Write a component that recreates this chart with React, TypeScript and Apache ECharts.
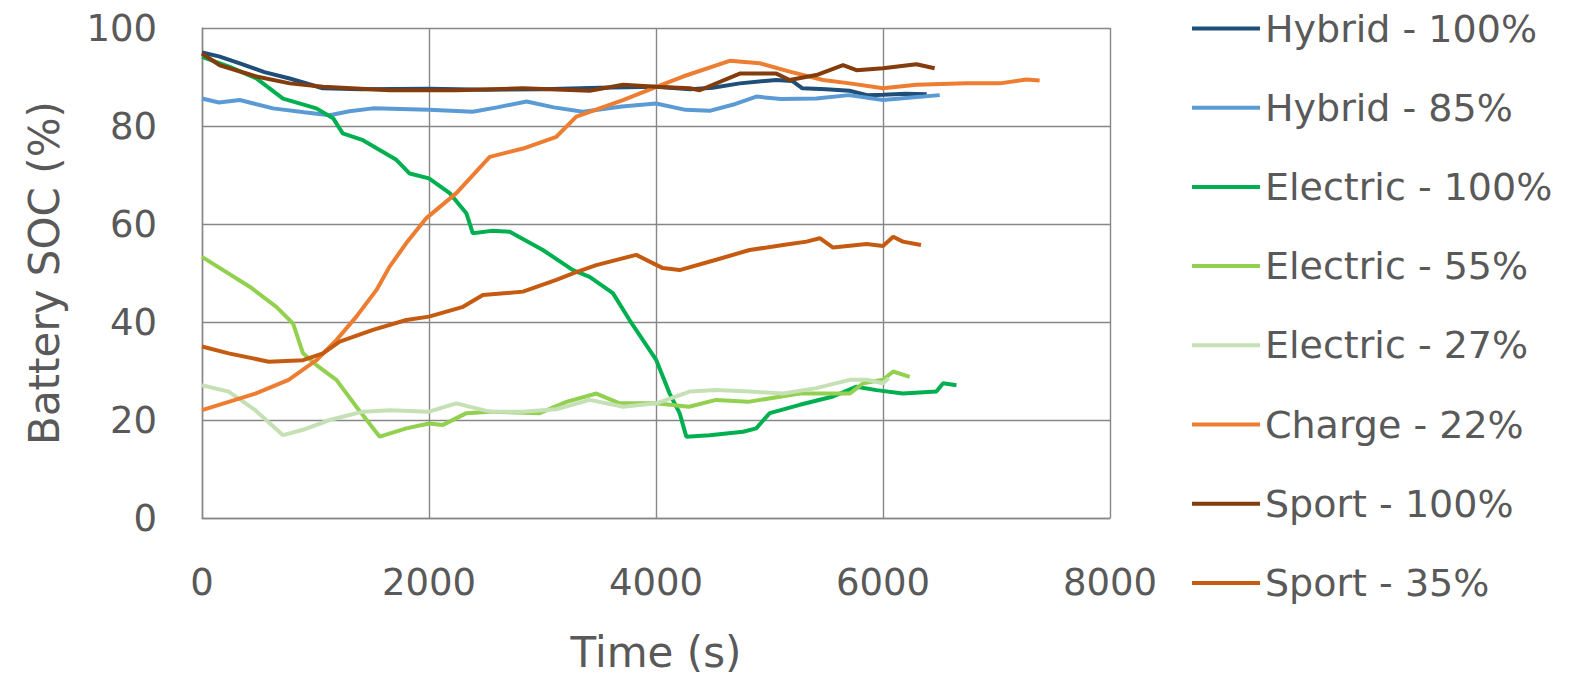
import React, { useEffect, useRef } from "react";
import * as echarts from "echarts";

const seriesNames = [
  "Hybrid - 100%",
  "Hybrid - 85%",
  "Electric - 100%",
  "Electric - 55%",
  "Electric - 27%",
  "Charge - 22%",
  "Sport - 100%",
  "Sport - 35%",
];
const seriesColors = ["#1F4E79", "#5B9BD5", "#00B050", "#92D050", "#C5E0B4", "#ED7D31", "#843C0C", "#C55A11"];

const hybrid100Time = [0, 150, 333, 550, 773, 1064, 1400, 2000, 2500, 3000, 3500, 4000, 4300, 4500, 4738, 5060, 5200, 5290, 5500, 5705, 5860, 6000, 6200, 6385];
const hybrid100Soc = [95, 94.2, 92.8, 91, 89.7, 87.7, 87.5, 87.6, 87.4, 87.5, 87.8, 88, 87.5, 87.8, 88.7, 89.4, 89.2, 87.7, 87.5, 87.2, 86.3, 86.4, 86.6, 86.5];

const hybrid85Time = [0, 150, 333, 626, 900, 1124, 1300, 1505, 2000, 2386, 2600, 2860, 3100, 3357, 3700, 4000, 4260, 4472, 4700, 4885, 5100, 5413, 5700, 6000, 6250, 6500];
const hybrid85Soc = [85.6, 84.8, 85.3, 83.6, 82.8, 82.2, 83.0, 83.6, 83.3, 82.9, 83.8, 85, 83.8, 82.9, 84.0, 84.6, 83.3, 83.1, 84.5, 86, 85.5, 85.6, 86.3, 85.3, 85.8, 86.3];

const electric100Time = [0, 250, 479, 714, 1008, 1155, 1240, 1418, 1712, 1830, 2000, 2182, 2329, 2386, 2550, 2711, 3003, 3268, 3415, 3620, 3767, 4003, 4120, 4208, 4267, 4473, 4767, 4883, 5002, 5267, 5560, 5766, 5942, 6175, 6470, 6530, 6647];
const electric100Soc = [94.1, 92, 89.7, 85.6, 83.6, 81.6, 78.5, 77.1, 73.1, 70.3, 69.3, 66.3, 62.2, 58.1, 58.6, 58.4, 54.7, 50.6, 49.2, 45.9, 40.4, 32.2, 25.4, 21.4, 16.6, 16.9, 17.6, 18.3, 21.4, 23.1, 24.8, 26.8, 26.1, 25.4, 25.8, 27.5, 27.1];

const electric55Time = [0, 420, 655, 802, 890, 1008, 1184, 1360, 1566, 1800, 2000, 2123, 2330, 2534, 2975, 3210, 3475, 3680, 4000, 4290, 4530, 4810, 5267, 5707, 5825, 6000, 6090, 6235];
const electric55Soc = [53.3, 47.2, 43.1, 39.7, 33.6, 31.2, 28.2, 22.7, 16.6, 18.3, 19.3, 19.0, 21.4, 21.7, 21.4, 23.7, 25.4, 23.4, 23.4, 22.7, 24.1, 23.7, 25.4, 25.4, 27.5, 28.2, 29.9, 28.8];

const electric27Time = [0, 235, 470, 714, 890, 1125, 1418, 1653, 2000, 2240, 2534, 2827, 3120, 3415, 3710, 4003, 4297, 4530, 4825, 5120, 5413, 5707, 5855, 6000, 6050];
const electric27Soc = [27.1, 25.8, 22, 16.9, 18, 20, 21.7, 22, 21.7, 23.4, 21.7, 21.7, 22.2, 24.1, 22.7, 23.4, 25.8, 26.1, 25.8, 25.4, 26.5, 28.2, 28.2, 27.5, 28.5];

const charge22Time = [0, 470, 763, 1008, 1184, 1360, 1536, 1653, 1800, 1977, 2241, 2535, 2828, 3122, 3298, 3709, 4003, 4238, 4649, 4914, 5178, 5471, 5707, 6000, 6294, 6734, 7028, 7263, 7380];
const charge22Soc = [22, 25.4, 28.2, 32.2, 36.3, 41.1, 46.5, 51.3, 56.1, 61.2, 66.3, 73.7, 75.4, 77.8, 81.9, 85.3, 88, 90.1, 93.3, 92.8, 91.1, 89.4, 88.7, 87.7, 88.4, 88.7, 88.7, 89.5, 89.3];

const sport100Time = [0, 157, 480, 773, 1066, 1652, 2240, 2828, 3416, 3710, 4000, 4297, 4385, 4738, 5060, 5178, 5413, 5648, 5766, 6000, 6294, 6455];
const sport100Soc = [94.8, 92.4, 90.1, 88.7, 88, 87.3, 87.3, 87.7, 87.2, 88.4, 88, 87.7, 87.3, 90.7, 90.7, 89.4, 90.4, 92.4, 91.4, 91.8, 92.6, 91.8];

const sport35Time = [0, 235, 588, 890, 1066, 1213, 1506, 1800, 2000, 2300, 2475, 2828, 3122, 3268, 3474, 3826, 4060, 4208, 4530, 4825, 5120, 5326, 5443, 5560, 5855, 6000, 6090, 6175, 6335];
const sport35Soc = [35, 33.6, 31.9, 32.2, 33.6, 36, 38.4, 40.4, 41.1, 43.1, 45.5, 46.2, 48.6, 49.9, 51.6, 53.7, 51, 50.6, 52.7, 54.7, 55.7, 56.4, 57.1, 55.2, 55.9, 55.5, 57.4, 56.4, 55.7];

const allTimes = [hybrid100Time, hybrid85Time, electric100Time, electric55Time, electric27Time, charge22Time, sport100Time, sport35Time];
const allSoc = [hybrid100Soc, hybrid85Soc, electric100Soc, electric55Soc, electric27Soc, charge22Soc, sport100Soc, sport35Soc];

const xTicks = { min: 0, max: 8000, interval: 2000 };
const yTicks = { min: 0, max: 100, interval: 20 };

const FONT = "DejaVu Sans";
const TEXT = "#595959";
const GRID = "#878787";

export default function App() {
  const ref = useRef<HTMLDivElement>(null);
  useEffect(() => {
    if (!ref.current) return;
    const chart = echarts.init(ref.current, undefined, { renderer: "svg" });
    const legendTop0 = 28.5;
    const legendStep = 79.2;
    const legends = seriesNames.map((name, i) => ({
      data: [name],
      orient: "vertical",
      left: 1192,
      top: legendTop0 + legendStep * i - 19,
      icon: "rect",
      itemWidth: 68,
      itemHeight: 4,
      padding: 0,
      selectedMode: false,
      textStyle: { fontFamily: FONT, fontSize: 38, color: TEXT, lineHeight: 38 },
    }));
    chart.setOption({
      animation: false,
      backgroundColor: "#ffffff",
      grid: { left: 202, right: 467, top: 28, bottom: 164, containLabel: false },
      legend: legends,
      xAxis: {
        type: "value",
        min: xTicks.min,
        max: xTicks.max,
        interval: xTicks.interval,
        name: "Time (s)",
        nameLocation: "middle",
        nameGap: 113,
        nameTextStyle: { fontFamily: FONT, fontSize: 42, color: TEXT },
        axisLine: { show: true, lineStyle: { color: GRID, width: 1.4 } },
        axisTick: { show: false },
        axisLabel: {
          fontFamily: FONT,
          fontSize: 37,
          color: TEXT,
          margin: 46,
          formatter: (v: number) => String(v),
        },
        splitLine: { show: true, lineStyle: { color: GRID, width: 1.4 } },
      },
      yAxis: {
        type: "value",
        min: yTicks.min,
        max: yTicks.max,
        interval: yTicks.interval,
        name: "Battery SOC (%)",
        nameLocation: "middle",
        nameGap: 137,
        nameTextStyle: { fontFamily: FONT, fontSize: 42, color: TEXT },
        axisLine: { show: true, lineStyle: { color: GRID, width: 1.4 } },
        axisTick: { show: false },
        axisLabel: {
          fontFamily: FONT,
          fontSize: 37,
          color: TEXT,
          margin: 45,
          formatter: (v: number) => String(v),
        },
        splitLine: { show: true, lineStyle: { color: GRID, width: 1.4 } },
      },
      series: seriesNames.map((name, i) => ({
        name,
        type: "line",
        symbol: "none",
        showSymbol: false,
        color: seriesColors[i],
        lineStyle: { color: seriesColors[i], width: 4 },
        data: allTimes[i].map((t, j) => [t, allSoc[i][j]]),
      })),
    });
    return () => chart.dispose();
  }, []);
  return (
    <div
      ref={ref}
      style={{ position: "fixed", left: 0, top: 0, width: 1577, height: 682, background: "#fff" }}
    />
  );
}
